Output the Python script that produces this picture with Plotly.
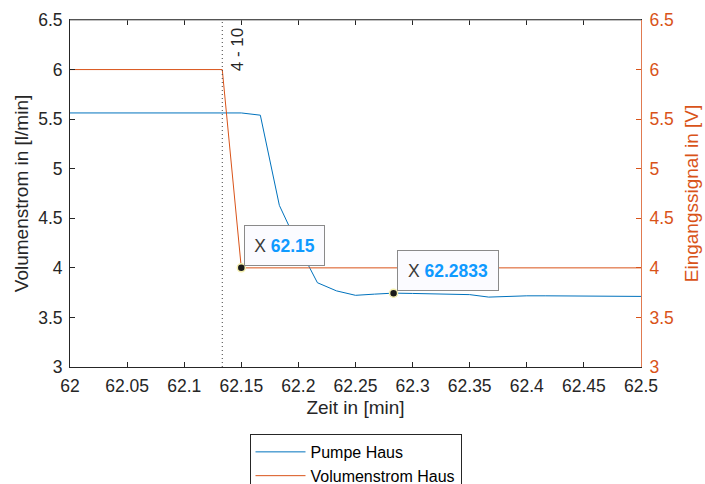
import plotly.graph_objects as go

# time grid: one sample per second, in minutes
sekunden = list(range(0, 31))
zeit = [62 + s / 60 for s in sekunden]

pumpe_haus = [5.5625, 5.5625, 5.5625, 5.5625, 5.5625, 5.5625, 5.5625, 5.5625, 5.5625, 5.5625,
              5.54, 4.63, 4.22, 3.85, 3.768, 3.723, 3.735, 3.745, 3.742, 3.74,
              3.738, 3.73, 3.705, 3.715, 3.718, 3.718, 3.718, 3.718, 3.718, 3.716, 3.712]
volumenstrom_haus = [6, 6, 6, 6, 6, 6, 6, 6, 6, 4,
                     4, 4, 4, 4, 4, 4, 4, 4, 4, 4,
                     4, 4, 4, 4, 4, 4, 4, 4, 4, 4, 4]

xline_pos = 62 + 8 / 60
xline_label = "4 - 10"
tip_x = [62.15, 62 + 17 / 60]
tip_label = ["62.15", "62.2833"]
tip_idx = [9, 17]

x_ticks = [62, 62.05, 62.1, 62.15, 62.2, 62.25, 62.3, 62.35, 62.4, 62.45, 62.5]
x_ticktext = ["62", "62.05", "62.1", "62.15", "62.2", "62.25", "62.3", "62.35", "62.4", "62.45", "62.5"]
y_ticks = [3, 3.5, 4, 4.5, 5, 5.5, 6, 6.5]
y_ticktext = ["3", "3.5", "4", "4.5", "5", "5.5", "6", "6.5"]

BLUE = "#0072BD"
ORANGE = "#D95319"
DARK = "#262626"
FONT = "Liberation Sans, Arial, sans-serif"
TICK_SIZE = 17.5
TITLE_SIZE = 19

fig = go.Figure()
fig.add_trace(go.Scatter(x=zeit, y=pumpe_haus, mode="lines", name="Pumpe Haus",
                         line=dict(color=BLUE, width=1), yaxis="y"))
fig.add_trace(go.Scatter(x=zeit, y=volumenstrom_haus, mode="lines", name="Volumenstrom Haus",
                         line=dict(color=ORANGE, width=1), yaxis="y2"))

# data tip markers
tip_y = [volumenstrom_haus[tip_idx[0]], pumpe_haus[tip_idx[1]]]
tip_axis = ["y2", "y"]
for xx, yy, ax in zip(tip_x, tip_y, tip_axis):
    fig.add_trace(go.Scatter(x=[xx], y=[yy], mode="markers", showlegend=False, yaxis=ax,
                             marker=dict(color="#1a1a1a", size=8,
                                         line=dict(color="#f5f0b0", width=1.5)),
                             hoverinfo="skip"))

fig.add_shape(type="line", x0=xline_pos, x1=xline_pos, y0=0, y1=1, xref="x", yref="paper",
              line=dict(color="#404040", width=1, dash="1px,3px"))
fig.add_annotation(x=xline_pos, y=1, xref="x", yref="paper", text=xline_label,
                   textangle=-90, xanchor="left", yanchor="top", showarrow=False,
                   xshift=4, yshift=-6, font=dict(family=FONT, size=17, color=DARK))

tip_w = [77, 98]
for xx, yy, lab, ax, w in zip(tip_x, tip_y, tip_label, tip_axis, tip_w):
    fig.add_annotation(x=xx, y=yy, xref="x", yref=ax,
                       text="X <b><span style='color:#0F9AFF'>" + lab + "</span></b>",
                       showarrow=False, xanchor="left", yanchor="bottom",
                       xshift=3, yshift=2, align="center", valign="middle",
                       width=w, height=37,
                       font=dict(family=FONT, size=17.5, color="#3a3a3a"),
                       bgcolor="#FBFBFF", bordercolor="#8a8a8a", borderwidth=1, borderpad=1)

fig.update_layout(
    width=705, height=484,
    margin=dict(l=70, r=64, t=20, b=117, autoexpand=False),
    paper_bgcolor="white", plot_bgcolor="white",
    font=dict(family=FONT, size=16, color=DARK),
    xaxis=dict(range=[62, 62.5], tickvals=x_ticks, ticktext=x_ticktext,
               ticks="inside", ticklen=5, tickcolor=DARK, showgrid=False, zeroline=False,
               showline=True, linecolor=DARK, linewidth=1, mirror="ticks", ticklabelstandoff=3,
               title=dict(text="Zeit in [min]", font=dict(size=TITLE_SIZE, color=DARK), standoff=5),
               tickfont=dict(size=TICK_SIZE, color=DARK)),
    yaxis=dict(range=[3, 6.5], tickvals=y_ticks, ticktext=y_ticktext,
               ticks="inside", ticklen=5, tickcolor=DARK, showgrid=False, zeroline=False,
               showline=True, linecolor=DARK, linewidth=1, ticklabelstandoff=3,
               title=dict(text="Volumenstrom in [l/min]", font=dict(size=TITLE_SIZE, color=DARK), standoff=4),
               tickfont=dict(size=TICK_SIZE, color=DARK)),
    yaxis2=dict(range=[3, 6.5], tickvals=y_ticks, ticktext=y_ticktext, overlaying="y", side="right",
                ticks="inside", ticklen=5, tickcolor=ORANGE, showgrid=False, zeroline=False,
                showline=True, linecolor="#E07A50", linewidth=1, ticklabelstandoff=4,
                title=dict(text="Eingangssignal in [V]", font=dict(size=TITLE_SIZE, color=ORANGE), standoff=11),
                tickfont=dict(size=TICK_SIZE, color=ORANGE)),
    legend=dict(x=0.5, y=-0.193, xanchor="center", yanchor="top", orientation="v",
                bgcolor="white", bordercolor=DARK, borderwidth=1,
                font=dict(size=16, color="black"), tracegroupgap=0, itemwidth=50),
    showlegend=True,
)

# top border line in gray
fig.add_shape(type="line", x0=0, x1=1, y0=1, y1=1, xref="paper", yref="paper",
              line=dict(color="#808080", width=1))

fig.write_html("out.html")
